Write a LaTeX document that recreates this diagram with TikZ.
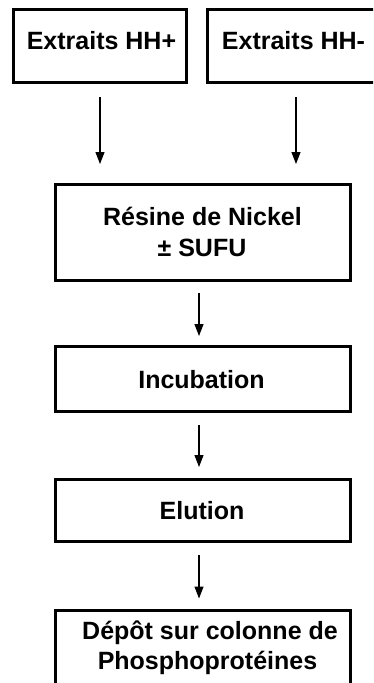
\documentclass[tikz,border=0pt]{standalone}
\usepackage{fontspec}
\setmainfont{Liberation Sans}
\usetikzlibrary{arrows.meta}
\begin{document}
\begin{tikzpicture}[x=1pt,y=-1pt,
  box/.style={draw=black,line width=3pt,rectangle,inner sep=0pt,minimum width=#1},
  lbl/.style={anchor=base,inner sep=0pt,font=\fontsize{25}{30}\selectfont\bfseries},
  arr/.style={-{Triangle[width=9pt,length=12pt]},line width=1.1pt}]
\path[use as bounding box] (0,0) rectangle (373,683);
\clip (0,0) rectangle (373,683);
% boxes (centre-line coordinates)
\node[box=173,minimum height=73] (a) at (100,46) {};
\node[box=174,minimum height=73] (b) at (294.5,46) {};
\node[box=295,minimum height=96] (r) at (203,232.5) {};
\node[box=295,minimum height=65] (i) at (203,379) {};
\node[box=295,minimum height=62] (e) at (203,510.5) {};
\node[box=295,minimum height=92] (d) at (203,656) {};
% texts
\node[lbl] (ta) at (101.5,49) {Extraits HH+};
\node[lbl] (tb) at (293.5,49) {Extraits HH-};
\node[lbl] (tr1) at (202.5,225) {Résine de Nickel};
\node[lbl] (tr2) at (202,256) {± SUFU};
\node[lbl] (ti) at (201.5,388) {Incubation};
\node[lbl] (te) at (202,519) {Elution};
\node[lbl] (td1) at (210,639) {Dépôt sur colonne de};
\node[lbl] (td2) at (207.5,669) {Phosphoprotéines};
% connectors
\draw[arr,shorten <=13pt,shorten >=19pt] (a.south) -- (a.south |- r.north);
\draw[arr,shorten <=13pt,shorten >=19pt] ([xshift=1.5pt]b.south) -- ([xshift=1.5pt]b.south |- r.north);
\draw[arr,shorten <=11pt,shorten >=9pt] ([xshift=-4pt]r.south) -- ([xshift=-4pt]i.north);
\draw[arr,shorten <=12pt,shorten >=11pt] ([xshift=-4pt]i.south) -- ([xshift=-4pt]e.north);
\draw[arr,shorten <=12pt,shorten >=10pt] ([xshift=-4pt]e.south) -- ([xshift=-4pt]d.north);
\end{tikzpicture}
\end{document}
